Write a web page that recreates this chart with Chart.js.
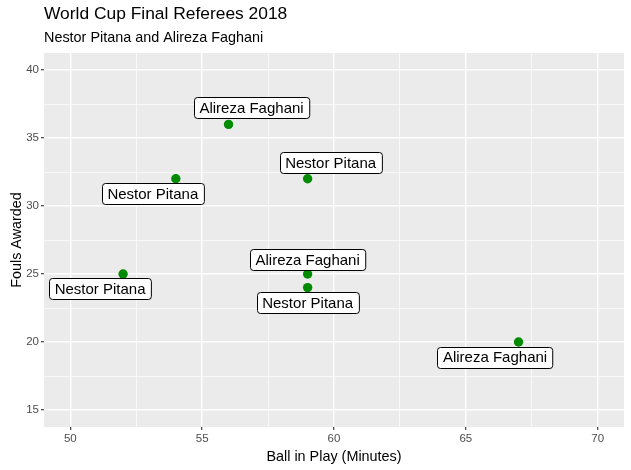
<!DOCTYPE html>
<html>
<head>
<meta charset="utf-8">
<script src="https://cdn.jsdelivr.net/npm/chart.js@4"></script>
<style>
html,body{margin:0;padding:0;background:#fff;}
#wrap{width:631px;height:470px;}
</style>
</head>
<body>
<div id="wrap"><canvas id="c" width="631" height="470"></canvas></div>
<script>
// ---- data ----
const ballInPlay = [52, 54, 56, 59, 59, 59, 67];
const foulsAwarded = [25, 32, 36, 32, 25, 24, 20];
const referees = ["Nestor Pitana", "Nestor Pitana", "Alireza Faghani", "Nestor Pitana", "Alireza Faghani", "Nestor Pitana", "Alireza Faghani"];
const xMajorTicks = [50, 55, 60, 65, 70];
const xMinorTicks = [52.5, 57.5, 62.5, 67.5];
const yMajorTicks = [15, 20, 25, 30, 35, 40];
const yMinorTicks = [17.5, 22.5, 27.5, 32.5, 37.5];
const titleText = "World Cup Final Referees 2018";
const subtitleText = "Nestor Pitana and Alireza Faghani";
const xTitle = "Ball in Play (Minutes)";
const yTitle = "Fouls Awarded";

// ---- label layout (pixel offsets of repelled labels from their points) ----
const labelOffsets = [[-23, 14.5], [-23, 15], [23, -17], [23, -16], [0, -14.5], [0, 15], [-23.5, 15]];

const FONT = "'Liberation Sans', Arial, Helvetica, sans-serif";

const points = ballInPlay.map((x, i) => ({x: x, y: foulsAwarded[i]}));

const panelBg = {
  id: 'panelBg',
  beforeDraw(chart) {
    const {ctx, chartArea: a} = chart;
    ctx.save();
    ctx.fillStyle = '#EBEBEB';
    ctx.fillRect(a.left, a.top, a.right - a.left, a.bottom - a.top);
    ctx.restore();
  }
};

const texts = {
  id: 'texts',
  afterDraw(chart) {
    const {ctx, chartArea: a} = chart;
    ctx.save();
    ctx.fillStyle = '#000';
    ctx.textBaseline = 'alphabetic';
    ctx.textAlign = 'left';
    ctx.font = '17.4px ' + FONT;
    ctx.fillText(titleText, a.left, 19);
    ctx.font = '14.4px ' + FONT;
    ctx.fillText(subtitleText, a.left, 42);
    ctx.textAlign = 'center';
    ctx.font = '14.4px ' + FONT;
    ctx.fillText(xTitle, (a.left + a.right) / 2, 460.5);
    ctx.translate(21, (a.top + a.bottom) / 2);
    ctx.rotate(-Math.PI / 2);
    ctx.fillText(yTitle, 0, 0);
    ctx.restore();
  }
};

function roundRect(ctx, x, y, w, h, r) {
  ctx.beginPath();
  ctx.moveTo(x + r, y);
  ctx.lineTo(x + w - r, y);
  ctx.arcTo(x + w, y, x + w, y + r, r);
  ctx.lineTo(x + w, y + h - r);
  ctx.arcTo(x + w, y + h, x + w - r, y + h, r);
  ctx.lineTo(x + r, y + h);
  ctx.arcTo(x, y + h, x, y + h - r, r);
  ctx.lineTo(x, y + r);
  ctx.arcTo(x, y, x + r, y, r);
  ctx.closePath();
}

const labels = {
  id: 'labels',
  afterDatasetsDraw(chart) {
    const {ctx} = chart;
    const meta = chart.getDatasetMeta(0);
    ctx.save();
    ctx.font = '15px ' + FONT;
    ctx.textAlign = 'center';
    ctx.textBaseline = 'middle';
    meta.data.forEach((el, i) => {
      const cx = el.x + labelOffsets[i][0];
      const cy = el.y + labelOffsets[i][1];
      const tw = ctx.measureText(referees[i]).width;
      const w = tw + 11, h = 21;
      roundRect(ctx, Math.round(cx - w / 2) + 0.5, Math.round(cy - h / 2) + 0.5, w, h, 3);
      ctx.fillStyle = '#fff';
      ctx.fill();
      ctx.lineWidth = 1;
      ctx.strokeStyle = '#000';
      ctx.stroke();
      ctx.fillStyle = '#000';
      ctx.fillText(referees[i], cx, cy + 1);
    });
    ctx.restore();
  }
};

function tickSetup(major, minor) {
  return function (scale) {
    scale.ticks = major.concat(minor).sort((a, b) => a - b).map(v => ({value: v}));
  };
}

new Chart(document.getElementById('c'), {
  type: 'scatter',
  data: {
    datasets: [{
      data: points,
      backgroundColor: '#008B00',
      borderWidth: 0,
      pointRadius: 4.7,
      pointHoverRadius: 4.7
    }]
  },
  options: {
    responsive: false,
    animation: false,
    devicePixelRatio: 1,
    layout: {padding: {left: 0, top: 53, right: 7, bottom: 0}},
    plugins: {legend: {display: false}, tooltip: {enabled: false}, title: {display: false}},
    scales: {
      x: {
        type: 'linear', min: 49, max: 71,
        afterBuildTicks: tickSetup(xMajorTicks, xMinorTicks),
        afterFit(s) { s.height = 43; },
        border: {display: false},
        grid: {
          color: '#FFFFFF',
          lineWidth: c => xMajorTicks.includes(c.tick.value) ? 1.4 : 0.7,
          tickColor: c => xMajorTicks.includes(c.tick.value) ? '#333333' : 'rgba(0,0,0,0)',
          tickLength: 3, tickWidth: 1.1
        },
        ticks: {
          autoSkip: false, maxRotation: 0, padding: 2,
          color: '#4D4D4D', font: {family: FONT, size: 11.5},
          callback: v => xMajorTicks.includes(v) ? String(v) : ''
        }
      },
      y: {
        type: 'linear', min: 13.75, max: 41.25,
        afterBuildTicks: tickSetup(yMajorTicks, yMinorTicks),
        afterFit(s) { s.width = 44; },
        border: {display: false},
        grid: {
          color: '#FFFFFF',
          lineWidth: c => yMajorTicks.includes(c.tick.value) ? 1.4 : 0.7,
          tickColor: c => yMajorTicks.includes(c.tick.value) ? '#333333' : 'rgba(0,0,0,0)',
          tickLength: 3, tickWidth: 1.1
        },
        ticks: {
          autoSkip: false, padding: 2,
          color: '#4D4D4D', font: {family: FONT, size: 11.5},
          callback: v => yMajorTicks.includes(v) ? String(v) : ''
        }
      }
    }
  },
  plugins: [panelBg, labels, texts]
});
</script>
</body>
</html>
